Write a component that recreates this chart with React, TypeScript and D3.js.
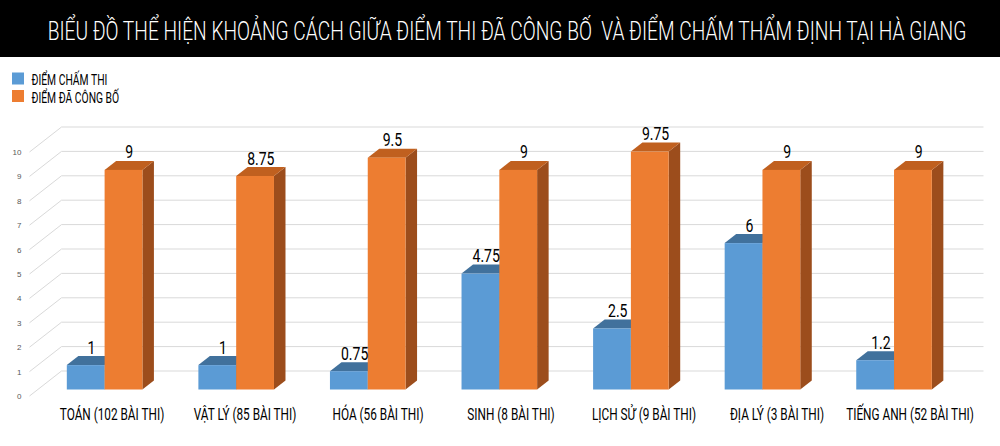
import React, { useLayoutEffect, useRef, useState } from "react";
import * as d3 from "d3";

const title = "BIỂU ĐỒ THỂ HIỆN KHOẢNG CÁCH GIỮA ĐIỂM THI ĐÃ CÔNG BỐ  VÀ ĐIỂM CHẤM THẨM ĐỊNH TẠI HÀ GIANG";
const categories = [
  "TOÁN (102 BÀI THI)",
  "VẬT LÝ (85 BÀI THI)",
  "HÓA (56 BÀI THI)",
  "SINH (8 BÀI THI)",
  "LỊCH SỬ (9 BÀI THI)",
  "ĐỊA LÝ (3 BÀI THI)",
  "TIẾNG ANH (52 BÀI THI)",
];
const seriesNames = ["ĐIỂM CHẤM THI", "ĐIỂM ĐÃ CÔNG BỐ"];
const chamThi = [1, 1, 0.75, 4.75, 2.5, 6, 1.2];
const congBo = [9, 8.75, 9.5, 9, 9.75, 9, 9];
const yTicks = [0, 1, 2, 3, 4, 5, 6, 7, 8, 9, 10];

const colors = [
  { front: "#5b9bd5", top: "#41719c", side: "#3a6a94" },
  { front: "#ed7d31", top: "#c0601f", side: "#9c4d1c" },
];

const FONT = "Roboto, 'Liberation Sans', sans-serif";
const TITLE_WIDTH = 919;
const TITLE_SIZE = 26;

function CText(props: {
  x: number;
  y: number;
  k: number;
  size: number;
  fill: string;
  anchor?: string;
  weight?: number;
  children: React.ReactNode;
}) {
  const { x, y, k, size, fill, anchor, weight, children } = props;
  return (
    <text
      transform={`translate(${x},${y}) scale(${k},1)`}
      fontSize={size}
      fill={fill}
      textAnchor={anchor || "start"}
      fontFamily={FONT}
      fontWeight={weight || 400}
      style={{ whiteSpace: "pre" }}
    >
      {children}
    </text>
  );
}

export default function App() {
  const W = 1000;
  const H = 446;
  const measureRef = useRef<SVGTextElement>(null);
  const [k, setK] = useState(0.78);

  useLayoutEffect(() => {
    if (measureRef.current) {
      const w = measureRef.current.getComputedTextLength();
      if (w > 0) setK(TITLE_WIDTH / w);
    }
  }, []);

  // oblique depth (z = 0 front plane, z = 1 back wall)
  const DX = 32;
  const DY = 25;
  const z1 = 0.26;
  const z2 = 0.62;

  const y = d3.scaleLinear().domain([0, 10]).range([396, 152]);
  const x = d3
    .scaleBand<string>()
    .domain(categories)
    .range([30.5, 951.5])
    .paddingInner(0.4255)
    .paddingOuter(0.21275);
  const xs = d3.scaleBand<string>().domain(seriesNames).range([0, x.bandwidth()]);
  const xLabel = d3.scalePoint<string>().domain(categories).range([112, 910]);

  const proj = (xf: number, v: number, z: number): [number, number] => [xf + z * DX, y(v) - z * DY];
  const x0 = x.range()[0] - 1;
  const x1 = x.range()[1];

  const data = [chamThi, congBo];

  const bars: React.ReactNode[] = [];
  const labels: React.ReactNode[] = [];
  categories.forEach((c, i) => {
    seriesNames.forEach((s, j) => {
      const v = data[j][i];
      const xl = (x(c) as number) + (xs(s) as number);
      const bw = xs.bandwidth();
      const [fx, fyTop] = proj(xl, v, z1);
      const [, fyBase] = proj(xl, 0, z1);
      const [bx, byTop] = proj(xl, v, z2);
      const [, byBase] = proj(xl, 0, z2);
      const ddx = bx - fx;
      const col = colors[j];
      bars.push(
        <g key={`${i}-${j}`}>
          <polygon
            points={`${fx + bw},${fyTop} ${bx + bw},${byTop} ${bx + bw},${byBase} ${fx + bw},${fyBase}`}
            fill={col.side}
          />
          <polygon
            points={`${fx},${fyTop} ${fx + bw},${fyTop} ${bx + bw},${byTop} ${bx},${byTop}`}
            fill={col.top}
          />
          <rect x={fx} y={fyTop} width={bw} height={fyBase - fyTop} fill={col.front} />
        </g>
      );
      labels.push(
        <CText key={`l${i}-${j}`} x={fx + bw / 2 + ddx / 2} y={byTop - 2.5} k={k} size={19} fill="#000" anchor="middle">
          {String(v)}
        </CText>
      );
    });
  });

  return (
    <svg width={W} height={H} style={{ position: "absolute", left: 0, top: 0, background: "#fff" }} fontFamily={FONT}>
      <text
        ref={measureRef}
        x={0}
        y={-100}
        fontSize={TITLE_SIZE}
        fontFamily={FONT}
        fontWeight={300}
        style={{ whiteSpace: "pre" }}
        visibility="hidden"
      >
        {title}
      </text>
      <rect x={0} y={0} width={W} height={57} fill="#000" />
      <CText x={507} y={39.5} k={k} size={TITLE_SIZE} fill="#fff" anchor="middle" weight={300}>
        {title}
      </CText>

      {/* legend */}
      {seriesNames.map((s, j) => (
        <g key={s}>
          <rect x={12} y={72.5 + j * 17.5} width={12} height={12} fill={colors[j].front} />
          <CText x={31.5} y={85 + j * 17.5} k={k} size={14} fill="#000">
            {s}
          </CText>
        </g>
      ))}

      {/* gridlines: side wall diagonals and back wall lines */}
      {yTicks.map((t) => {
        const [ax, ay] = proj(x0, t, 0);
        const [bx, by] = proj(x0, t, 1);
        const [ex] = proj(x1, t, 1);
        return (
          <g key={t}>
            <line x1={ax} y1={ay} x2={bx} y2={by} stroke="#d9d9d9" strokeWidth={1} />
            <line x1={bx} y1={by} x2={ex} y2={by} stroke="#d9d9d9" strokeWidth={1} />
            <text
              x={21.5}
              y={ay + 3}
              textAnchor="end"
              fontSize={8}
              fill="#595959"
              fontFamily="'Liberation Sans', Arial, sans-serif"
            >
              {t}
            </text>
          </g>
        );
      })}

      {bars}
      {labels}

      {categories.map((c) => (
        <CText key={c} x={xLabel(c) as number} y={420} k={k} size={16} fill="#000" anchor="middle">
          {c}
        </CText>
      ))}
    </svg>
  );
}
